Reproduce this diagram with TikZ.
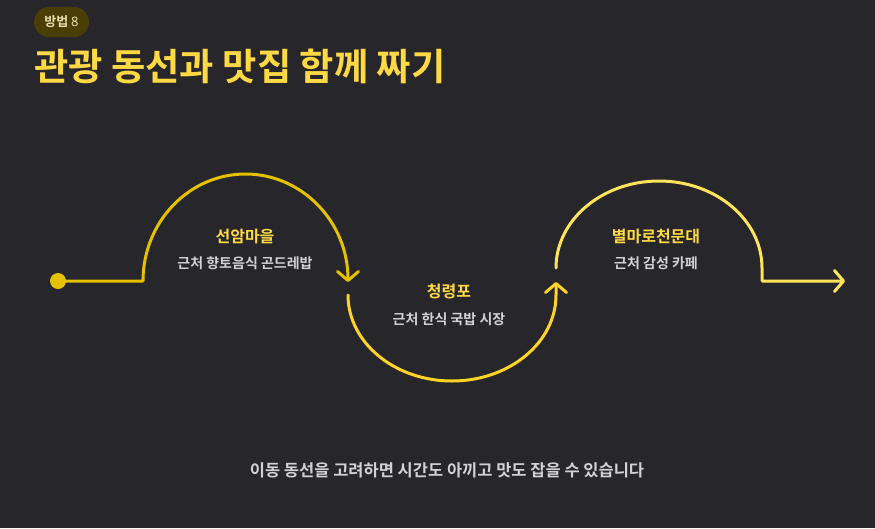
\documentclass[tikz,border=0pt]{standalone}
\usepackage{fontspec}
\setmainfont{Noto Sans CJK KR}[BoldFont={Noto Sans CJK KR Bold}]
\newfontfamily\digitfont{Noto Sans}
\usetikzlibrary{arrows.meta}
\definecolor{bgdark}{HTML}{26262B}
\definecolor{badgefill}{HTML}{4B3E05}
\definecolor{badgetext}{HTML}{E9DDB0}
\definecolor{titleyellow}{HTML}{FFD944}
\definecolor{routeA}{HTML}{E6C100}
\definecolor{routeB}{HTML}{FFD426}
\definecolor{routeC}{HTML}{FFE35A}
\definecolor{notegray}{HTML}{D2D2D2}
\tikzset{
	route/.style={line width=3pt, line cap=round, line join=round},
	tip/.style={-{Straight Barb[length=9pt,width=21pt,round]}},
	stopname/.style={font=\bfseries\fontsize{16}{19}\selectfont, text=titleyellow},
	stopnote/.style={font=\bfseries\fontsize{14}{17}\selectfont, text=notegray},
}
\begin{document}
\begin{tikzpicture}[x=1pt,y=-1pt]
	% le fond
	\fill[bgdark] (0,0) rectangle (875,528);
	\useasboundingbox (0,0) rectangle (875,528);
	% l'en-tete
	\fill[badgefill, rounded corners=15pt] (34,7) rectangle (89,37);
	\node[font=\bfseries\fontsize{13}{15}\selectfont, text=badgetext] (badge) at (61.5,22) {방법 {\digitfont 8}};
	\node[anchor=west, inner sep=0pt, font=\bfseries\fontsize{37.3}{44}\selectfont, text=titleyellow] (title) at (34,66) {관광 동선과 맛집 함께 짜기};
	% les points du trajet
	\coordinate (start) at (58,281);
	\coordinate (rise1) at (143,281);
	\coordinate (top1) at (245.5,174);
	\coordinate (end1) at (348,282);
	\coordinate (start2) at (348,295);
	\coordinate (low2) at (452,381);
	\coordinate (turn2) at (556,295);
	\coordinate (end2) at (556,282);
	\coordinate (start3) at (556,268);
	\coordinate (top3) at (659,181);
	\coordinate (fall3) at (762,281);
	\coordinate (end3) at (845,281);
	% les arcs
	\fill[routeA] (start) circle (8pt);
	\draw[route, tip, routeA] (start) -- (rise1)
		.. controls (143,222) and (188.9,174) .. (top1)
		.. controls (302.1,174) and (348,222) .. (end1);
	\draw[route, tip, routeB] (start2)
		.. controls (348,342.5) and (394.6,381) .. (low2)
		.. controls (509.4,381) and (556,342.5) .. (turn2) -- (end2);
	\draw[route, tip, routeC] (start3)
		.. controls (556,220) and (602.1,181) .. (top3)
		.. controls (715.9,181) and (762,220) .. (762,268) -- (fall3) -- (end3);
	% les etapes
	\node[stopname] (seonam) at (245,237) {선암마을};
	\node[stopnote] (seonamnote) at (245,263) {근처 향토음식 곤드레밥};
	\node[stopname] (cheong) at (449,292) {청령포};
	\node[stopnote] (cheongnote) at (449,319) {근처 한식 국밥 시장};
	\node[stopname] (byeol) at (656,237) {별마로천문대};
	\node[stopnote] (byeolnote) at (656,263) {근처 감성 카페};
	% la conclusion
	\node[font=\bfseries\fontsize{16.5}{20}\selectfont, text=notegray] (summary) at (447,470) {이동 동선을 고려하면 시간도 아끼고 맛도 잡을 수 있습니다};
\end{tikzpicture}
\end{document}
